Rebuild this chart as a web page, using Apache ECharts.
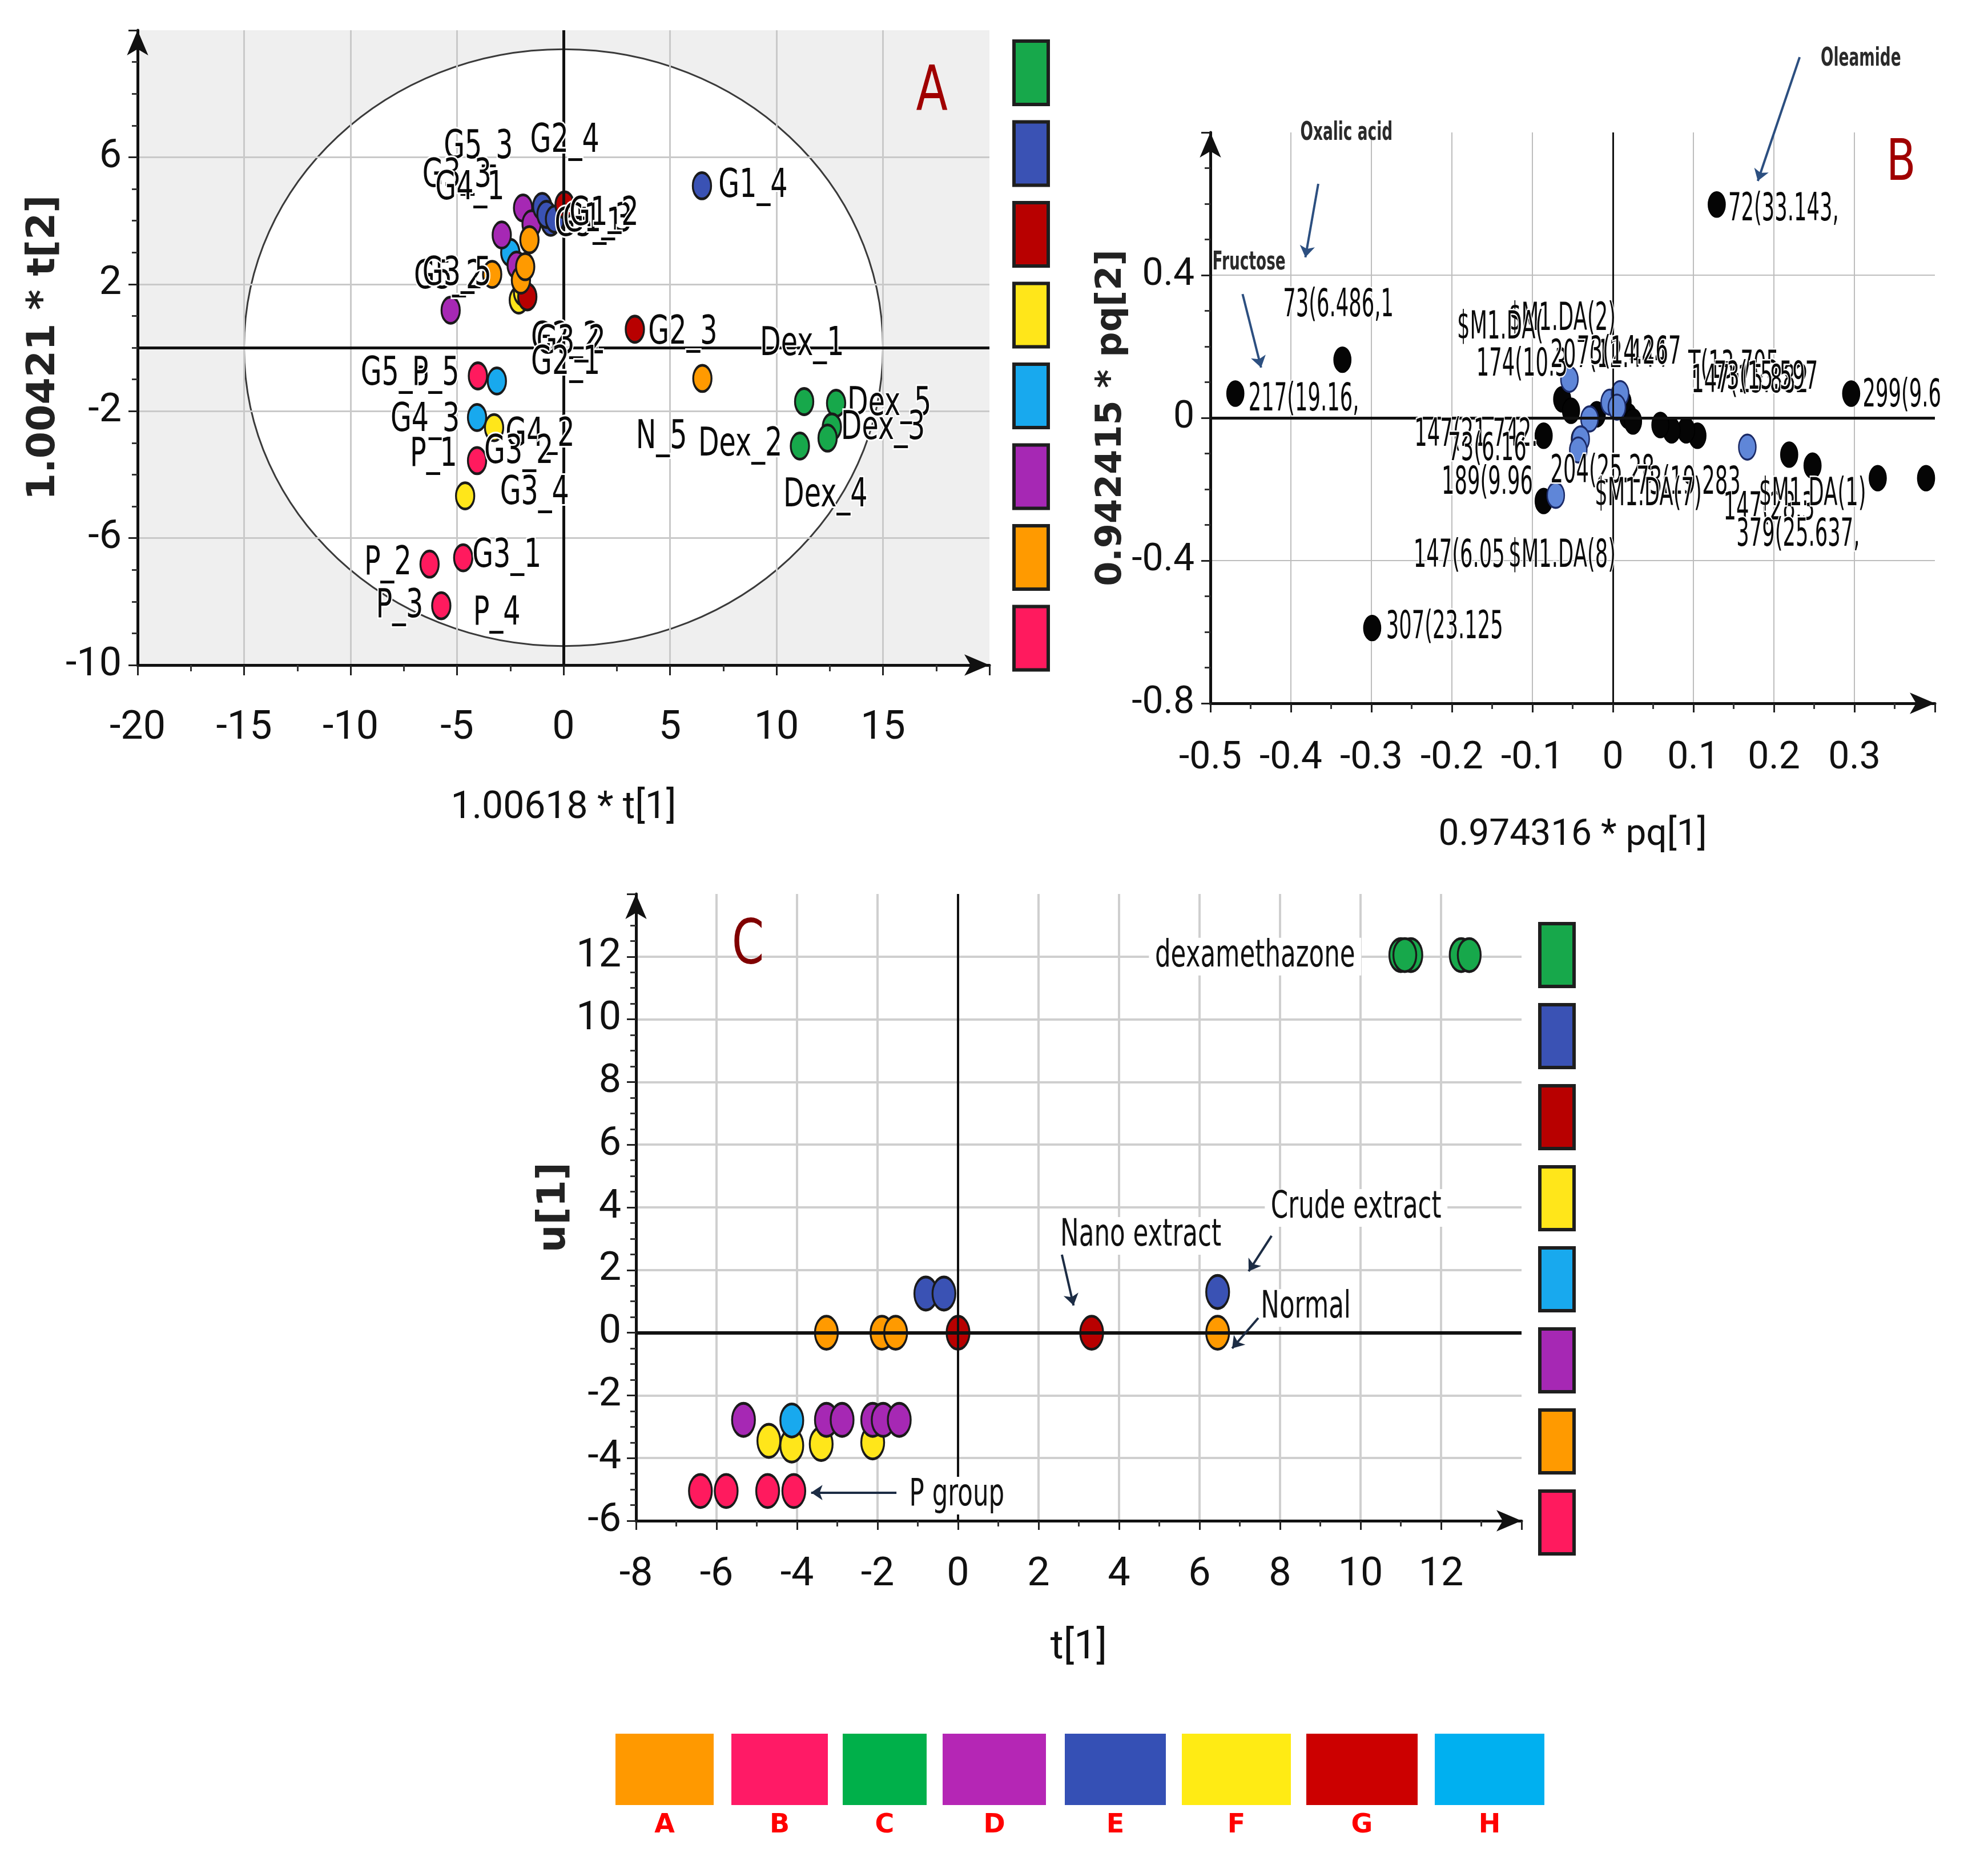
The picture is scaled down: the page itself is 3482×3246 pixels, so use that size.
<!DOCTYPE html>
<html><head><meta charset="utf-8">
<script src="https://cdn.jsdelivr.net/npm/echarts@6/dist/echarts.min.js"></script>
<style>html,body{margin:0;padding:0;background:#fff}#c{width:3482px;height:3246px}</style>
</head><body><div id="c"></div>
<script>
// ---------------- DATA ----------------
const groupNames  = ['Dex','G1','G2','G3','G4','G5','N','P'];
const groupColors = ['#17a84b','#3a52b4','#b80000','#ffe61a','#18a9ee','#a628b4','#ff9a00','#ff1a5e'];

// Panel A: scores t[1], t[2]
const scoreA_Dex = [[11.3,-1.7],[11.1,-3.1],[12.8,-1.75],[12.6,-2.5],[12.4,-2.85]];
const scoreA_G1  = [[6.5,5.1],[-1.0,4.45],[-0.6,3.95],[-0.8,4.2],[-0.4,4.05]];
const scoreA_G2  = [[0.05,4.5],[3.35,0.58],[-1.7,1.6]];
const scoreA_G3  = [[-3.26,-2.52],[-4.62,-4.67],[-2.1,1.5],[-1.9,1.75]];
const scoreA_G4  = [[-3.13,-1.05],[-4.06,-2.2],[-2.5,3.0]];
const scoreA_G5  = [[-5.3,1.18],[-2.9,3.55],[-1.9,4.4],[-2.2,2.6],[-1.5,3.9]];
const scoreA_N   = [[6.52,-0.97],[-3.35,2.31],[-1.6,3.4],[-2.0,2.13],[-1.8,2.55]];
const scoreA_P   = [[-4.02,-0.89],[-4.06,-3.56],[-4.71,-6.62],[-6.29,-6.82],[-5.74,-8.13]];
const hotellingA = [[0, 0, 15.0, 9.4]]; // centre x, centre y, semi-axis x, semi-axis y
const labelsA = [
  [-4.0,6.3,'G5_3'],[0.06,6.5,'G2_4'],[-5.0,5.4,'G3_3'],[-4.4,5.0,'G4_1'],
  [1.2,3.85,'G5_1'],[1.6,4.0,'G1_3'],[1.9,4.2,'G1_2'],[8.9,5.08,'G1_4'],
  [-5.4,2.2,'G5_2'],[-5.0,2.3,'G3_5'],
  [0.1,0.25,'G2_2'],[0.35,0.15,'G3_2'],[0.1,-0.5,'G2_1'],
  [5.6,0.45,'G2_3'],[11.2,0.1,'Dex_1'],
  [-7.9,-0.85,'G5_5'],[-6.0,-0.85,'P_5'],[-6.5,-2.3,'G4_3'],[-6.1,-3.4,'P_1'],
  [-1.1,-2.76,'G4_2'],[-2.1,-3.3,'G3_2'],[-1.36,-4.6,'G3_4'],
  [4.6,-2.84,'N_5'],[8.3,-3.08,'Dex_2'],[15.3,-1.8,'Dex_5'],[15.0,-2.55,'Dex_3'],[12.3,-4.67,'Dex_4'],
  [-2.66,-6.58,'G3_1'],[-8.25,-6.82,'P_2'],[-7.7,-8.17,'P_3'],[-3.13,-8.4,'P_4']
];
const panelTagA = [[17.3,8.0,'A']];

// Panel B: loadings pq[1], pq[2]
const loadB_black = [[-0.469,0.068],[-0.336,0.163],[-0.299,-0.589],[0.129,0.598],[0.296,0.068],
  [0.389,-0.169],[0.329,-0.169],[0.248,-0.134],[0.219,-0.103],[0.105,-0.05],[0.091,-0.035],
  [0.073,-0.035],[0.059,-0.02],[0.019,0.005],[0.012,0.044],[-0.063,0.052],[-0.052,0.02],
  [-0.086,-0.05],[-0.086,-0.233],[-0.041,-0.06],[0.025,-0.01],[-0.02,0.01]];
const loadB_blue = [[0.167,-0.082],[-0.004,0.044],[0.009,0.068],[-0.029,-0.003],[-0.04,-0.059],
  [-0.043,-0.09],[-0.071,-0.217],[-0.054,0.108],[0.005,0.03]];
const labelsB = [
  [-0.384,0.049,'217(19.16,'],[-0.341,0.313,'73(6.486,1'],[-0.209,-0.589,'307(23.125'],
  [0.212,0.582,'72(33.143,'],[0.359,0.06,'299(9.6'],
  [-0.063,0.274,'$M1.DA(2)'],[-0.14,0.25,'$M1.DA('],[-0.113,0.147,'174(10.3'],
  [-0.005,0.17,'207(12.444'],[0.02,0.18,'73(14.267'],[0.15,0.14,'T(13.705'],
  [0.17,0.1,'147(15.882'],[0.19,0.11,'73(15.597'],
  [-0.17,-0.05,'147(21.742.'],[-0.156,-0.09,'73(6.16'],[-0.156,-0.185,'189(9.96'],
  [-0.013,-0.153,'204(25.28'],[0.094,-0.185,'73(19.283'],[0.044,-0.217,'$M1.DA(7)'],
  [-0.191,-0.39,'147(6.05'],[-0.063,-0.39,'$M1.DA(8)'],
  [0.194,-0.256,'147(28.3'],[0.248,-0.217,'$M1.DA(1)'],[0.23,-0.33,'379(25.637,']
];
const notesB = [[0.308,1.005,'Oleamide'],[-0.331,0.798,'Oxalic acid'],[-0.452,0.435,'Fructose']];
const arrowsB = [[0.232,1.011,0.180,0.664],[-0.366,0.656,-0.382,0.45],[-0.460,0.347,-0.437,0.141]];
const panelTagB = [[0.358,0.709,'B']];

// Panel C: t[1], u[1]
const scoreC_Dex = [[11.0,12.05],[11.25,12.05],[12.5,12.05],[12.7,12.05],[11.1,12.05]];
const scoreC_G1  = [[-0.8,1.25],[-0.35,1.25],[6.45,1.3]];
const scoreC_G2  = [[0,0],[3.32,0]];
const scoreC_G3  = [[-4.7,-3.45],[-4.13,-3.6],[-3.4,-3.55],[-2.12,-3.5]];
const scoreC_G4  = [[-4.13,-2.8]];
const scoreC_G5  = [[-5.33,-2.78],[-3.27,-2.78],[-2.88,-2.78],[-2.12,-2.78],[-1.86,-2.78],[-1.46,-2.78]];
const scoreC_N   = [[-3.27,0],[-1.89,0],[-1.55,0],[6.45,0]];
const scoreC_P   = [[-6.4,-5.05],[-5.76,-5.05],[-4.73,-5.05],[-4.08,-5.05]];
const notesC = [[7.38,12.0,'dexamethazone'],[4.54,3.09,'Nano extract'],[9.89,3.98,'Crude extract'],
  [8.64,0.79,'Normal'],[-0.03,-5.2,'P group']];
const arrowsC = [[2.58,2.49,2.87,0.87],[7.79,3.09,7.22,1.96],[7.46,0.47,6.81,-0.5],[-1.53,-5.1,-3.65,-5.1]];
const panelTagC = [[-5.22,12.3,'C']];

const bottomLegendLetters = ['A','B','C','D','E','F','G','H'];
const bottomLegendColors  = ['#ff9900','#ff1a66','#00b04a','#b526b5','#3550b5','#ffeb14','#cc0000','#00b0f0'];

// ---------------- STYLE / LAYOUT ----------------
const FN = "Roboto, 'Liberation Sans', sans-serif";
const FD = "'DejaVu Sans', sans-serif";

function mkAxis(o){
  return {
    type:'value', gridIndex:o.grid, min:o.min, max:o.max, interval:o.interval,
    name:o.name, nameLocation:'middle', nameGap:o.nameGap, nameRotate:o.nameRotate||0,
    nameTextStyle:o.nameStyle,
    axisLine:{show:true, onZero:false, symbol:['none','arrow'], symbolSize:o.arrow,
      lineStyle:{color:'#111', width:o.lw}},
    axisTick:{show:true, length:o.tickLen, lineStyle:{color:'#222', width:3}},
    minorTick:{show:true, splitNumber:o.minor, length:Math.round(o.tickLen*0.6), lineStyle:{color:'#333', width:3}},
    axisLabel:{show:true, margin:o.margin, fontFamily:FN, fontSize:o.fs, color:'#111',
      showMaxLabel:false, formatter:o.fmt},
    splitLine:{show:true, showMinLine:false, showMaxLine:false,
      lineStyle:{color:o.gridColor, width:o.gridW}}
  };
}
const fmt1 = v => String(Math.round(v*10)/10);

const xAxes = [
  mkAxis({grid:0,min:-20,max:20,interval:5,minor:2,name:'1.00618 * t[1]',nameGap:218,
    nameStyle:{fontFamily:FN,fontSize:66,color:'#111'},arrow:[28,44],lw:5,tickLen:18,margin:76,fs:70,
    gridColor:'#c9c9c9',gridW:3}),
  mkAxis({grid:1,min:-0.5,max:0.4,interval:0.1,minor:2,name:'0.974316 * pq[1]',nameGap:200,
    nameStyle:{fontFamily:FN,fontSize:64,color:'#111'},arrow:[28,44],lw:5,tickLen:16,margin:64,fs:66,
    gridColor:'#bdbdbd',gridW:2,fmt:fmt1}),
  mkAxis({grid:2,min:-8,max:14,interval:2,minor:2,name:'t[1]',nameGap:188,
    nameStyle:{fontFamily:FN,fontSize:70,color:'#111'},arrow:[28,44],lw:5,tickLen:16,margin:60,fs:70,
    gridColor:'#cfcfcf',gridW:4})
];
const yAxes = [
  mkAxis({grid:0,min:-10,max:10,interval:4,minor:4,name:'1.00421 * t[2]',nameGap:112,nameRotate:90,
    nameStyle:{fontFamily:FD,fontSize:68,fontWeight:'bold',color:'#222'},arrow:[28,44],lw:5,tickLen:16,margin:28,fs:70,
    gridColor:'#c9c9c9',gridW:3}),
  mkAxis({grid:1,min:-0.8,max:0.8,interval:0.4,minor:4,name:'0.942415 * pq[2]',nameGap:100,nameRotate:90,
    nameStyle:{fontFamily:FD,fontSize:62,fontWeight:'bold',color:'#222'},arrow:[28,44],lw:5,tickLen:16,margin:28,fs:66,
    gridColor:'#bdbdbd',gridW:2,fmt:fmt1}),
  mkAxis({grid:2,min:-6,max:14,interval:2,minor:4,name:'u[1]',nameGap:92,nameRotate:90,
    nameStyle:{fontFamily:FD,fontSize:68,fontWeight:'bold',color:'#222'},arrow:[28,44],lw:5,tickLen:16,margin:26,fs:70,
    gridColor:'#cfcfcf',gridW:4})
];

const grids = [
  {left:241, top:53,   width:1492, height:1112},
  {left:2120, top:232, width:1269, height:1000},
  {left:1114, top:1566, width:1551, height:1098}
];

const series = [];

// Panel A background + Hotelling ellipse
series.push({
  type:'custom', xAxisIndex:0, yAxisIndex:0, z:-5, silent:true, clip:false,
  data:hotellingA,
  renderItem(params, api){
    const c = api.coord([api.value(0), api.value(1)]);
    const s = api.size([api.value(2), api.value(3)]);
    const cs = params.coordSys;
    return {type:'group', children:[
      {type:'rect', shape:{x:cs.x, y:cs.y, width:cs.width, height:cs.height}, style:{fill:'#efefef'}},
      {type:'ellipse', shape:{cx:c[0], cy:c[1], rx:s[0], ry:s[1]}, style:{fill:'#ffffff', stroke:'#3a3a3a', lineWidth:3}}
    ]};
  }
});

function zeroLines(wx, wy){
  return {silent:true, symbol:'none', label:{show:false}, animation:false,
    data:[{xAxis:0, lineStyle:{color:'#111', width:wx, type:'solid'}},
          {yAxis:0, lineStyle:{color:'#111', width:wy, type:'solid'}}]};
}

const groupsA = {Dex:scoreA_Dex,G1:scoreA_G1,G2:scoreA_G2,G3:scoreA_G3,G4:scoreA_G4,G5:scoreA_G5,N:scoreA_N,P:scoreA_P};
const groupsC = {Dex:scoreC_Dex,G1:scoreC_G1,G2:scoreC_G2,G3:scoreC_G3,G4:scoreC_G4,G5:scoreC_G5,N:scoreC_N,P:scoreC_P};
const orderA = ['Dex','P','G3','G4','G5','G1','G2','N'];
const orderC = ['Dex','P','G3','G5','G4','G1','G2','N'];

orderA.forEach((g,i)=>{
  series.push({type:'scatter', name:g, xAxisIndex:0, yAxisIndex:0, data:groupsA[g],
    symbol:'circle', symbolSize:[32,46], z:3,
    itemStyle:{color:groupColors[groupNames.indexOf(g)], borderColor:'#1a1a1a', borderWidth:4, opacity:1},
    markLine: i===0 ? zeroLines(5,5) : undefined});
});
orderC.forEach((g,i)=>{
  series.push({type:'scatter', name:g+'_C', xAxisIndex:2, yAxisIndex:2, data:groupsC[g],
    symbol:'circle', symbolSize:[40,58], z:3,
    itemStyle:{color:groupColors[groupNames.indexOf(g)], borderColor:'#1a1a1a', borderWidth:4, opacity:1},
    markLine: i===0 ? zeroLines(4,6) : undefined});
});
series.push({type:'scatter', name:'loadBlack', xAxisIndex:1, yAxisIndex:1, data:loadB_black,
  symbol:'circle', symbolSize:[30,44], z:3,
  itemStyle:{color:'#050505', borderColor:'#000', borderWidth:2, opacity:1},
  markLine: zeroLines(3,5)});
series.push({type:'scatter', name:'loadBlue', xAxisIndex:1, yAxisIndex:1, data:loadB_blue,
  symbol:'circle', symbolSize:[30,44], z:4,
  itemStyle:{color:'#5f86d8', borderColor:'#1b2a66', borderWidth:3, opacity:1}});

// condensed text placed in data coordinates
function textSeries(xi, arr, st){
  return {type:'custom', xAxisIndex:xi, yAxisIndex:xi, clip:false, silent:true, z:6,
    data:arr.map(d=>[d[0],d[1]]),
    renderItem(params, api){
      const p = api.coord([api.value(0), api.value(1)]);
      const style = {text:arr[params.dataIndex][2], fontSize:st.fs, fontFamily:st.ff||FD,
        fontWeight:st.fw||'normal', fill:st.color||'#111', align:'center', verticalAlign:'middle'};
      if (st.halo) { style.stroke = '#fff'; style.lineWidth = st.halo; }
      if (st.bg) { style.backgroundColor = st.bg; style.padding = [0,16]; }
      return {type:'text', x:p[0], y:p[1], scaleX:st.sx||1, style};
    }};
}
series.push(textSeries(0, labelsA, {fs:70, sx:0.68, color:'#0a0a0a', halo:6}));
series.push(textSeries(0, panelTagA, {fs:108, sx:0.75, color:'#a00000'}));
series.push(textSeries(1, labelsB, {fs:68, sx:0.52, color:'#0a0a0a', halo:5}));
series.push(textSeries(1, notesB, {fs:44, sx:0.6, fw:'bold', color:'#2a2a2a'}));
series.push(textSeries(1, panelTagB, {fs:100, sx:0.75, color:'#a00000'}));
series.push(textSeries(2, notesC, {fs:66, sx:0.66, color:'#111', bg:'#ffffff'}));
series.push(textSeries(2, panelTagC, {fs:108, sx:0.75, color:'#800000'}));

function arrowSeries(xi, arr, color){
  return {type:'lines', coordinateSystem:'cartesian2d', xAxisIndex:xi, yAxisIndex:xi, clip:false, silent:true, z:7,
    symbol:['none','arrow'], symbolSize:20, lineStyle:{color, width:4, opacity:1, curveness:0},
    data:arr.map(a=>({coords:[[a[0],a[1]],[a[2],a[3]]]}))};
}
series.push(arrowSeries(1, arrowsB, '#2c4f80'));
series.push(arrowSeries(2, arrowsC, '#1c2c44'));

// legends (decorative swatches)
const graphics = [];
const sideLegends = [{x:1776, y:72, w:60, h:111, step:141.5},{x:2697, y:1618, w:60, h:110, step:142}];
sideLegends.forEach(s => groupColors.forEach((c,i)=>graphics.push({
  type:'rect', shape:{x:s.x, y:s.y+i*s.step, width:s.w, height:s.h},
  style:{fill:c, stroke:'#1e1e1e', lineWidth:6}})));
const botX = [[1078,1250],[1281,1450],[1476,1623],[1651,1832],[1865,2042],[2070,2261],[2288,2483],[2513,2705]];
bottomLegendColors.forEach((c,i)=>{
  graphics.push({type:'rect', shape:{x:botX[i][0], y:3037, width:botX[i][1]-botX[i][0], height:125}, style:{fill:c}});
  graphics.push({type:'text', x:(botX[i][0]+botX[i][1])/2, y:3198,
    style:{text:bottomLegendLetters[i], fill:'#ff0000', font:"bold 46px 'DejaVu Sans', sans-serif", align:'center', verticalAlign:'middle'}});
});

const chart = echarts.init(document.getElementById('c'));
chart.setOption({
  animation:false,
  backgroundColor:'#ffffff',
  grid:grids,
  xAxis:xAxes,
  yAxis:yAxes,
  series,
  graphic:graphics
});
</script>
</body></html>
